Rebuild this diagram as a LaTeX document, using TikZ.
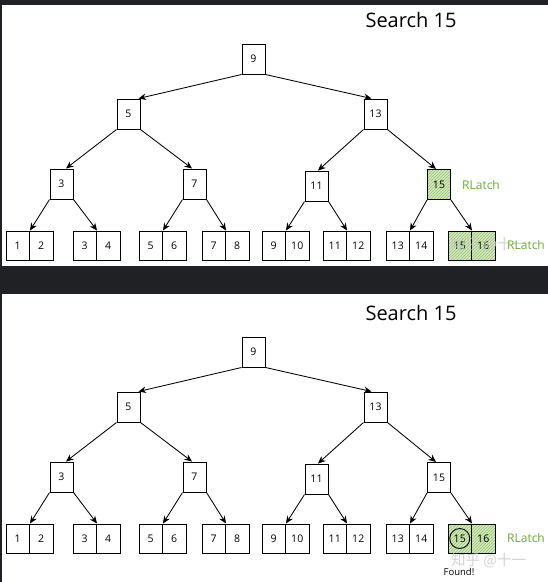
\documentclass[tikz,border=0pt]{standalone}
\usepackage{fontspec}
\setmainfont{Open Sans}
\newfontfamily\cjk{Noto Sans CJK SC}
\usetikzlibrary{arrows.meta,patterns,calc}
\definecolor{framec}{HTML}{202124}
\definecolor{lgreen}{HTML}{D5E9C0}
\definecolor{hgreen}{HTML}{93C46E}
\definecolor{tgreen}{HTML}{6CAB3C}
\definecolor{wmark}{HTML}{C8C8C8}
\tikzset{
  box/.style={draw=black, line width=1pt, minimum width=23pt, minimum height=30pt, inner sep=0pt, font=\fontsize{10.5}{12}\selectfont},
  cell/.style={draw=black, line width=1pt, minimum width=23.5pt, minimum height=29pt, inner sep=0pt, font=\fontsize{10.5}{12}\selectfont},
  hatch/.style={preaction={fill=lgreen}, pattern=north east lines, pattern color=hgreen},
  plain/.style={fill=white},
  arr/.style={-{Stealth[length=7.5pt,width=6.5pt]}, line width=0.85pt},
  lbl/.style={text=tgreen, font=\fontsize{12}{14}\selectfont, inner sep=0pt, anchor=west},
  title/.style={font=\fontsize{20}{24}\selectfont, inner sep=0pt},
  wm/.style={text=wmark, font=\cjk\fontsize{14.5}{16}\selectfont, inner sep=0pt, anchor=west, opacity=0.8},
}
% #1 prefix, #2 y offset, #3 style of internal node 15
\newcommand\mytree[3]{%
\begin{scope}[shift={(0,#2)}]
  \node[title] (#1title) at (411,20) {Search 15};
  \node[box] (#1n9)  at (253.5,59) {9};
  \node[box] (#1n5)  at (128.5,114) {5};
  \node[box] (#1n13) at (375.5,114) {13};
  \node[box] (#1n3)  at (61.5,184) {3};
  \node[box] (#1n7)  at (194.5,184) {7};
  \node[box] (#1n11) at (316.5,186) {11};
  \node[box,#3] (#1n15) at (439,184.5) {15};
  \foreach \i/\L in {1/6,2/73,3/139,4/202,5/262,6/323,7/386}{
    \pgfmathtruncatemacro\va{2*\i-1}
    \pgfmathtruncatemacro\vb{2*\i}
    \node[cell] (#1la\i) at (\L+11.75,245.5) {\va};
    \node[cell] (#1lb\i) at (\L+35.25,245.5) {\vb};
  }
  \node[cell,hatch] (#1la8) at (459.75,245.5) {15};
  \node[cell,hatch] (#1lb8) at (483.25,245.5) {16};
  \draw[arr] (#1n9.south west) -- ($(#1n5.north east)+(-2,0)$);
  \draw[arr] (#1n9.south east) -- ($(#1n13.north west)+(8,0)$);
  \draw[arr] (#1n5.south west) -- ($(#1n3.north)+(4.5,0)$);
  \draw[arr] (#1n5.south east) -- ($(#1n7.north)+(-2.5,0)$);
  \draw[arr] (#1n13.south west) -- ($(#1n11.north)+(1.5,0)$);
  \draw[arr] (#1n13.south east) -- ($(#1n15.north)+(-3,0)$);
  \draw[arr] (#1n3.south west) -- (#1la1.north east);
  \draw[arr] (#1n3.south east) -- (#1la2.north east);
  \draw[arr] (#1n7.south west) -- (#1la3.north east);
  \draw[arr] (#1n7.south east) -- (#1la4.north east);
  \draw[arr] (#1n11.south west) -- (#1la5.north east);
  \draw[arr] (#1n11.south east) -- (#1la6.north east);
  \draw[arr] (#1n15.south west) -- (#1la7.north east);
  \draw[arr] (#1n15.south east) -- (#1la8.north east);
\end{scope}}
\begin{document}
\begin{tikzpicture}[x=1pt,y=-1pt]
  \useasboundingbox (0,0) rectangle (548,582);
  \fill[white] (0,0) rectangle (548,582);
  \fill[framec] (0,0) rectangle (548,5);
  \fill[framec] (0,0) rectangle (2,582);
  \fill[framec] (0,266) rectangle (548,294);
  % top panel
  \mytree{t}{0}{hatch}
  \node[wm] (twm) at (451,245) {知乎 @十一};
  \node[lbl] (tlab1) at (462,185) {RLatch};
  \node[lbl] (tlab2) at (507,245) {RLatch};
  % bottom panel
  \mytree{b}{293}{plain}
  \draw[line width=0.9pt] (bla8.center) circle (10pt);
  \node[lbl] (blab) at (507,538) {RLatch};
  \node[wm] (bwm) at (451,561) {知乎 @十一};
  \node[font=\fontsize{9.5}{11}\selectfont, inner sep=0pt] (found) at (459,572) {Found!};
\end{tikzpicture}
\end{document}
